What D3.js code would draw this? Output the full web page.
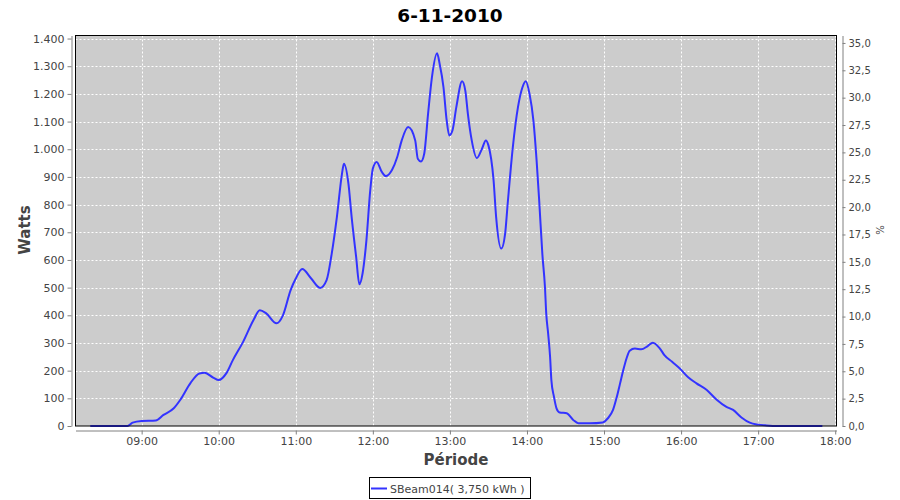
<!DOCTYPE html>
<html>
<head>
<meta charset="utf-8">
<script src="https://cdn.jsdelivr.net/npm/d3@7"></script>
<style>
  html, body { margin: 0; padding: 0; background: #fff; }
  svg { display: block; }
  text { font-family: "DejaVu Sans", sans-serif; }
</style>
</head>
<body>
<svg id="chart" width="900" height="500"></svg>
<script>
// ---- data ----
const chartTitle = "6-11-2010";
const seriesName = "SBeam014( 3,750 kWh )";
const times = ["08:20:00","08:30:00","08:40:00","08:49:00","08:53:00","09:00:00","09:11:00","09:17:00","09:25:00","09:30:00",
  "09:38:00","09:45:00","09:49:00","09:56:00","10:00:00","10:06:00","10:11:00","10:19:00","10:27:00","10:32:00",
  "10:37:00","10:45:00","10:50:00","10:56:00","11:00:00","11:05:00","11:12:00","11:19:00","11:24:00","11:28:00",
  "11:32:00","11:36:00","11:37:30","11:41:00","11:43:30","11:47:00","11:49:30","11:52:00","11:55:00","11:58:00",
  "12:00:00","12:03:00","12:07:00","12:10:00","12:15:00","12:19:00","12:22:30","12:27:30","12:33:00","12:35:00",
  "12:37:30","12:40:00","12:43:00","12:46:00","12:50:00","12:52:00","12:55:00","12:57:30","12:59:30","13:02:00",
  "13:05:00","13:09:30","13:12:00","13:14:00","13:17:00","13:21:00","13:25:00","13:28:00","13:30:00","13:34:00",
  "13:36:00","13:40:00","13:43:00","13:45:00","13:49:00","13:53:00","13:56:30","13:59:00","14:02:00","14:05:00",
  "14:07:30","14:09:30","14:12:00","14:14:00","14:15:00","14:16:30","14:18:00","14:19:00","14:21:00","14:23:00",
  "14:25:30","14:31:00","14:36:00","14:40:00","14:49:00","14:59:00","15:03:00","15:07:00","15:10:00","15:12:30",
  "15:15:00","15:17:30","15:20:00","15:24:00","15:29:00","15:34:00","15:38:00","15:43:30","15:47:00","15:53:00",
  "15:59:00","16:05:30","16:12:00","16:20:00","16:27:30","16:35:00","16:40:30","16:47:00","16:53:30","17:00:00",
  "17:06:30","17:15:00","17:30:00","17:50:00"];
const watts = [0,0,0,0,12,18,20,40,64,94,
  155,190,192,174,166,191,238,304,382,418,
  407,371,400,491,533,567,533,499,527,623,
  755,912,948,876,755,611,512,551,671,852,
  930,954,918,903,926,972,1032,1080,1032,966,
  956,984,1128,1260,1347,1309,1224,1104,1050,1068,
  1152,1246,1212,1128,1032,968,1002,1032,1014,888,
  755,641,695,804,1008,1152,1224,1246,1200,1104,
  960,816,620,503,407,334,250,166,106,64,
  49,46,22,10,10,13,28,58,106,154,
  202,244,272,280,277,289,301,280,256,232,
  208,176,154,130,96,70,58,31,12,5,
  2,0,0,0];
const wattTicks = [0,100,200,300,400,500,600,700,800,900,1000,1100,1200,1300,1400];
const pctTicks = [0,2.5,5,7.5,10,12.5,15,17.5,20,22.5,25,27.5,30,32.5,35];
const hourTicks = ["09:00","10:00","11:00","12:00","13:00","14:00","15:00","16:00","17:00","18:00"];
const xDomain = ["08:08:30","18:01:00"];
const wattMax = 1411;
const pctMax = 35.68;

// ---- chart ----
const parseT = d3.timeParse("%H:%M:%S");
const parseH = d3.timeParse("%H:%M");
const data = times.map((t, i) => ({ t: parseT(t), v: watts[i] }));

const loc = d3.formatLocale({ decimal: ",", thousands: ".", grouping: [3], currency: ["", "€"] });
const fmtW = loc.format(",d");
const fmtP = loc.format(".1f");

const plot = { left: 75.5, right: 836.5, top: 35.5, bottom: 426 };
const svg = d3.select("#chart");

const x = d3.scaleTime().domain(xDomain.map(parseT)).range([plot.left, plot.right]);
const y = d3.scaleLinear().domain([0, wattMax]).range([plot.bottom, plot.top]);
const yR = d3.scaleLinear().domain([0, pctMax]).range([plot.bottom, plot.top]);

// title
svg.append("text").attr("x", 450).attr("y", 22).attr("text-anchor", "middle")
  .style("font-size", "18.5px").style("font-weight", "bold").attr("fill", "#000").text(chartTitle);

// plot background
svg.append("rect").attr("x", plot.left).attr("y", plot.top)
  .attr("width", plot.right - plot.left).attr("height", plot.bottom - plot.top)
  .attr("fill", "#cccccc");

// grid
const grid = svg.append("g").attr("stroke", "#fff").attr("stroke-width", 1).attr("stroke-dasharray", "2,2");
grid.selectAll("line.h").data(wattTicks).join("line")
  .attr("x1", plot.left).attr("x2", plot.right)
  .attr("y1", d => Math.round(y(d)) + 0.5).attr("y2", d => Math.round(y(d)) + 0.5);
grid.selectAll("line.v").data(hourTicks.map(parseH)).join("line")
  .attr("y1", plot.top).attr("y2", plot.bottom)
  .attr("x1", d => Math.round(x(d)) + 0.5).attr("x2", d => Math.round(x(d)) + 0.5);

// line
const line = d3.line().x(d => x(d.t)).y(d => y(d.v)).curve(d3.curveMonotoneX);
svg.append("path").datum(data).attr("d", line)
  .attr("fill", "none").attr("stroke", "#3333ff").attr("stroke-width", 2).attr("stroke-linejoin", "round");

// border
svg.append("rect").attr("x", plot.left).attr("y", plot.top)
  .attr("width", plot.right - plot.left).attr("height", plot.bottom - plot.top)
  .attr("fill", "none").attr("stroke", "#000").attr("stroke-width", 1);

function styleAxis(size) {
  return g => {
    g.select(".domain").attr("stroke", "#808080");
    g.selectAll(".tick line").attr("stroke", "#808080");
    g.selectAll(".tick text").attr("fill", "#444").style("font-size", size)
      .style("font-family", '"DejaVu Sans", sans-serif');
  };
}

// left axis
svg.append("g").attr("transform", "translate(71.5,0)")
  .call(d3.axisLeft(y).tickValues(wattTicks).tickFormat(fmtW).tickSize(4).tickSizeOuter(0).tickPadding(3))
  .call(styleAxis("11px"));

// right axis
svg.append("g").attr("transform", "translate(842.5,0)")
  .call(d3.axisRight(yR).tickValues(pctTicks).tickFormat(fmtP).tickSize(3).tickSizeOuter(0).tickPadding(3))
  .call(styleAxis("10px"));

// bottom axis
svg.append("g").attr("transform", "translate(0,430.5)")
  .call(d3.axisBottom(x).tickValues(hourTicks.map(parseH)).tickFormat(d3.timeFormat("%H:%M")).tickSize(4).tickSizeOuter(0).tickPadding(3))
  .call(styleAxis("11px"));

// axis labels
svg.append("text").attr("transform", "translate(30,230) rotate(-90)").attr("text-anchor", "middle")
  .style("font-size", "15px").style("font-weight", "bold").attr("fill", "#444").text("Watts");
svg.append("text").attr("x", (plot.left + plot.right) / 2).attr("y", 465).attr("text-anchor", "middle")
  .style("font-size", "15px").style("font-weight", "bold").attr("fill", "#444").text("Période");
svg.append("text").attr("transform", "translate(884,230) rotate(-90)").attr("text-anchor", "middle")
  .style("font-size", "10px").attr("fill", "#444").text("%");

// legend
const leg = svg.append("g");
leg.append("rect").attr("x", 369.5).attr("y", 477.5).attr("width", 161).attr("height", 21)
  .attr("fill", "#fff").attr("stroke", "#000");
leg.append("line").attr("x1", 371).attr("x2", 387).attr("y1", 488.5).attr("y2", 488.5)
  .attr("stroke", "#3333ff").attr("stroke-width", 2);
leg.append("text").attr("x", 390).attr("y", 492.5).style("font-size", "11px").attr("fill", "#444").text(seriesName);
</script>
</body>
</html>
